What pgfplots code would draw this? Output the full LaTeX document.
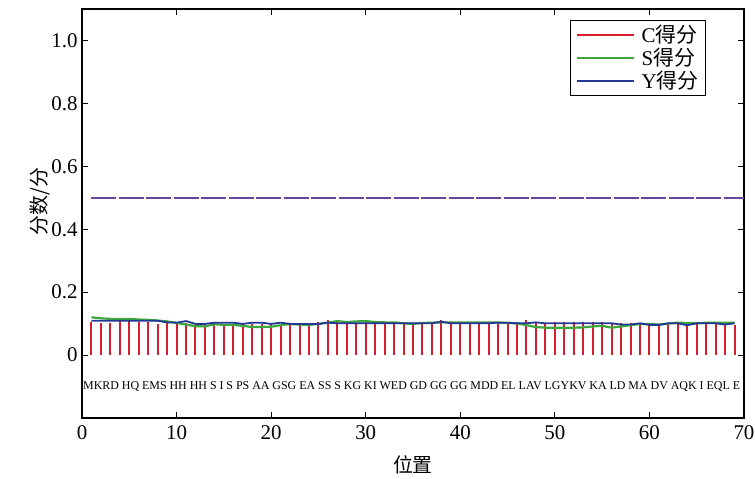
\documentclass[border=0pt]{standalone}
\usepackage{fontspec}
\setmainfont{Liberation Serif}
\newfontfamily\cjk{Noto Sans CJK SC}
\usepackage{pgfplots}
\usepackage{pgfplotstable}
\pgfplotsset{compat=1.18}
\definecolor{scC}{RGB}{214,30,45}
\definecolor{scS}{RGB}{60,168,60}
\definecolor{scY}{RGB}{35,55,150}
\definecolor{scP}{RGB}{105,70,155}

\pgfplotstableread{
x c s y
1 0.106 0.120 0.109
2 0.103 0.117 0.109
3 0.103 0.115 0.109
4 0.112 0.115 0.109
5 0.108 0.115 0.109
6 0.104 0.113 0.109
7 0.104 0.112 0.109
8 0.099 0.110 0.109
9 0.106 0.107 0.104
10 0.103 0.102 0.103
11 0.101 0.097 0.108
12 0.096 0.092 0.099
13 0.096 0.091 0.099
14 0.101 0.098 0.103
15 0.098 0.096 0.103
16 0.098 0.096 0.103
17 0.099 0.093 0.099
18 0.099 0.089 0.103
19 0.099 0.089 0.103
20 0.099 0.090 0.099
21 0.099 0.095 0.103
22 0.099 0.099 0.099
23 0.099 0.097 0.099
24 0.099 0.096 0.099
25 0.106 0.099 0.099
26 0.112 0.103 0.103
27 0.104 0.108 0.101
28 0.104 0.105 0.101
29 0.104 0.107 0.101
30 0.104 0.108 0.101
31 0.104 0.105 0.101
32 0.104 0.104 0.101
33 0.104 0.104 0.101
34 0.103 0.101 0.101
35 0.099 0.099 0.101
36 0.104 0.102 0.101
37 0.101 0.103 0.101
38 0.112 0.104 0.106
39 0.104 0.104 0.101
40 0.104 0.104 0.101
41 0.101 0.104 0.101
42 0.104 0.104 0.101
43 0.104 0.104 0.101
44 0.104 0.104 0.103
45 0.103 0.102 0.103
46 0.101 0.101 0.101
47 0.112 0.095 0.101
48 0.104 0.089 0.104
49 0.101 0.087 0.101
50 0.104 0.087 0.101
51 0.104 0.087 0.101
52 0.104 0.087 0.101
53 0.104 0.088 0.101
54 0.104 0.091 0.101
55 0.104 0.093 0.101
56 0.101 0.087 0.101
57 0.101 0.091 0.097
58 0.101 0.095 0.097
59 0.101 0.099 0.101
60 0.096 0.099 0.096
61 0.099 0.097 0.096
62 0.101 0.100 0.101
63 0.099 0.103 0.101
64 0.101 0.102 0.095
65 0.101 0.101 0.101
66 0.101 0.103 0.101
67 0.101 0.103 0.101
68 0.101 0.103 0.097
69 0.096 0.103 0.101
}\scores

\begin{document}
\begin{tikzpicture}
\useasboundingbox (-82bp,-61bp) rectangle (673bp,418bp);
\begin{axis}[
  at={(0,0)}, anchor=south west,
  scale only axis,
  width=662bp, height=409bp,
  xmin=0, xmax=70, ymin=-0.2, ymax=1.1,
  xtick={0,10,...,70},
  ytick={0,0.2,0.4,0.6,0.8,1.0},
  yticklabels={0,0.2,0.4,0.6,0.8,1.0},
  /pgf/number format/assume math mode=true,
  tick align=inside,
  major tick length=6bp,
  minor tick num=0,
  tick style={black, line width=0.9bp},
  axis line style={black, line width=1.1bp},
  ticklabel style={font=\fontsize{21}{23}\selectfont},
  xticklabel style={yshift=-4bp},
  yticklabel style={xshift=-1bp},
  xlabel={\cjk 位置},
  ylabel={\cjk 分数/分},
  xlabel style={font=\fontsize{20}{22}\selectfont, at={(axis description cs:0.5,-0.115)}, anchor=center},
  ylabel style={font=\fontsize{20}{22}\selectfont, at={(axis description cs:-0.0634,0.53)}, anchor=center},
  legend style={at={(1,1)}, xshift=-38bp, yshift=-11bp, anchor=north east,
    draw=black, line width=0.8bp, font=\fontsize{21}{22}\selectfont,
    inner xsep=5bp, inner ysep=3bp, row sep=0bp},
  legend cell align=left,
  legend image code/.code={\draw[#1, line width=1.5bp] (0bp,0bp) -- (57bp,0bp); \path (62bp,0bp);},
]
\addplot[ycomb, draw=scC, line width=2bp, mark=none] table[x=x, y=c] {\scores};
\addlegendentry{C{\cjk 得分}}
\addplot[draw=scS, line width=2.2bp, mark=none] table[x=x, y=s] {\scores};
\addlegendentry{S{\cjk 得分}}
\addplot[draw=scY, line width=1.8bp, mark=none] table[x=x, y=y] {\scores};
\addlegendentry{Y{\cjk 得分}}
\addplot[draw=scP, line width=1.8bp, dash pattern=on 25bp off 2.5bp, forget plot] coordinates {(1,0.5) (70,0.5)};
\node[anchor=west, inner sep=0pt, font=\fontsize{12}{13}\selectfont] at (axis cs:0.1,-0.1)
  {\makebox[657bp][s]{MKRD HQ EMS HH HH S I S PS AA GSG EA SS S KG KI WED GD GG GG MDD EL LAV LGYKV KA LD MA DV AQK I EQL E}};
\end{axis}
\end{tikzpicture}
\end{document}
